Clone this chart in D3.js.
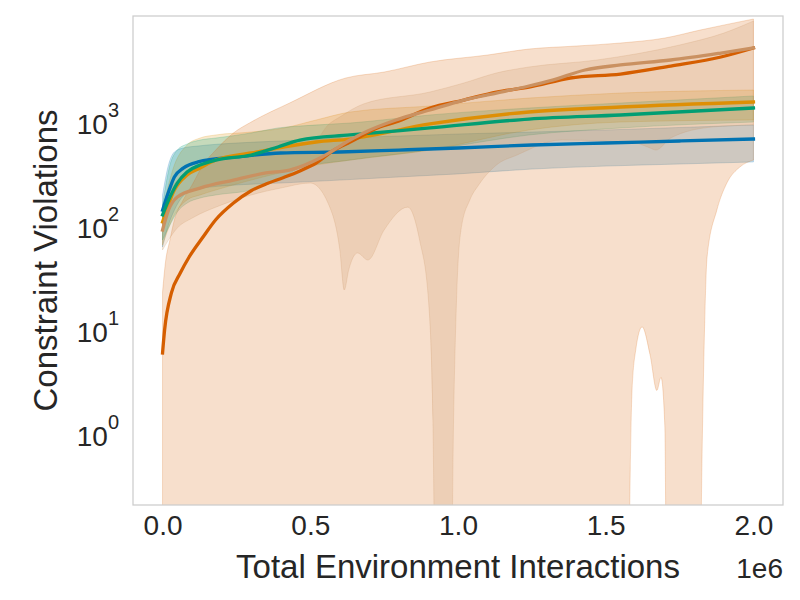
<!DOCTYPE html>
<html lang="en">
<head>
<meta charset="UTF-8">
<title>Constraint Violations</title>
<style>
    body { margin: 0; background: #fff; }
    svg { font-family: "Liberation Sans", Arial, sans-serif; }
</style>
<script src="https://d3js.org/d3.v7.min.js"></script>
</head>
<body>
<div id="chart"></div>
<script>
// x values are environment interactions, y values are constraint violations

// blue run
var blueSteps = [0, 0.02e6, 0.04e6, 0.07e6, 0.12e6, 0.25e6, 0.4e6, 0.6e6, 0.8e6, 1.0e6, 1.25e6, 1.5e6, 1.75e6, 2.0e6];
var blueMean  = [130, 194, 271, 330, 378, 422, 461, 471, 492, 515, 550, 575, 601, 628];
var blueHi    = [182, 353, 471, 515, 538, 575, 601, 642, 671, 702, 733, 767, 811, 857];
var blueLo    = [57.5, 93.5, 130, 178, 208, 227, 237, 253, 271, 290, 323, 345, 361, 378];

// orange run
var orangeSteps = [0, 0.04e6, 0.083e6, 0.127e6, 0.18e6, 0.30e6, 0.41e6, 0.52e6, 0.635e6, 0.905e6, 1.24e6, 1.55e6, 2.0e6];
var orangeMean  = [100, 203, 283, 330, 394, 461, 526, 588, 628, 876, 1142, 1276, 1425];
var orangeHi    = [130, 353, 550, 642, 687, 733, 802, 957, 1142, 1304, 1556, 1738, 1858];
var orangeLo    = [60.1, 117, 163, 182, 203, 253, 303, 353, 394, 492, 767, 915, 957];

// green run
var greenSteps = [0, 0.025e6, 0.05e6, 0.083e6, 0.127e6, 0.18e6, 0.30e6, 0.39e6, 0.465e6, 0.635e6, 0.905e6, 1.24e6, 1.55e6, 2.0e6];
var greenMean  = [117, 174, 237, 303, 353, 394, 441, 526, 614, 687, 802, 977, 1069, 1248];
var greenHi    = [146, 353, 492, 562, 614, 642, 718, 802, 838, 895, 1069, 1248, 1393, 1629];
var greenLo    = [67.1, 93.5, 125, 152, 170, 182, 203, 253, 330, 394, 492, 687, 802, 915];

// vermillion run (lower bound goes to ~0 for most of the run)
var redSteps = [0, 0.007e6, 0.03e6, 0.06e6, 0.09e6, 0.137e6, 0.18e6, 0.24e6, 0.30e6, 0.35e6, 0.41e6, 0.465e6, 0.52e6,
                0.58e6, 0.635e6, 0.735e6, 0.79e6, 0.905e6, 1.02e6, 1.13e6, 1.24e6, 1.38e6, 1.55e6, 1.72e6, 1.89e6, 2.0e6];
var redMean  = [5.5, 9.2, 20.8, 32.3, 46.1, 71.7, 105, 152, 200, 232, 268, 310, 369,
                492, 588, 819, 915, 1248, 1489, 1778, 1986, 2425, 2648, 3162, 3862, 4713];
var redHiSteps = [0, 0.01e6, 0.025e6, 0.04e6, 0.07e6, 0.1e6, 0.137e6, 0.18e6, 0.24e6, 0.30e6, 0.43e6, 0.62e6,
                  0.75e6, 0.905e6, 1.1e6, 1.24e6, 1.4e6, 1.55e6, 1.7e6, 1.82e6, 2.0e6];
var redHi      = [21.2, 41.2, 67.1, 105, 163, 227, 353, 492, 718, 915, 1393, 2425,
                  2767, 3455, 4033, 4605, 4922, 5262, 5879, 7015, 8954];
var redLoSteps = [0, 1.575e6, 1.583e6, 1.589e6, 1.602e6, 1.623e6, 1.65e6, 1.673e6, 1.687e6, 1.70e6, 1.707e6,
                  1.817e6, 1.826e6, 1.835e6, 1.843e6, 1.876e6, 1.91e6, 1.954e6, 2.0e6];
var redLo      = [0.01, 0.01, 0.42, 2.4, 6.0, 9.8, 5.3, 2.4, 3.2, 1.1, 0.01,
                  0.01, 0.56, 10.9, 46.1, 130, 237, 338, 394];

// tan run
var tanSteps = [0, 0.02e6, 0.05e6, 0.127e6, 0.24e6, 0.35e6, 0.43e6, 0.54e6, 0.635e6, 0.68e6, 0.79e6, 0.905e6,
                1.02e6, 1.13e6, 1.24e6, 1.32e6, 1.43e6, 1.55e6, 1.72e6, 1.89e6, 2.0e6];
var tanMean  = [83.8, 130, 174, 212, 253, 296, 316, 422, 614, 718, 957, 1194,
                1489, 1738, 2031, 2318, 2896, 3236, 3612, 4217, 4713];
var tanHiSteps = [0, 0.02e6, 0.05e6, 0.127e6, 0.24e6, 0.35e6, 0.43e6, 0.52e6, 0.56e6, 0.6e6, 0.68e6, 0.905e6,
                  1.02e6, 1.13e6, 1.24e6, 1.47e6, 1.75e6, 1.9e6, 2.0e6];
var tanHi      = [117, 182, 253, 353, 412, 471, 515, 614, 857, 1023, 1365, 1778,
                  2172, 2710, 3093, 3612, 5035, 6565, 8566];
var tanLoSteps = [0, 0.02e6, 0.05e6, 0.1e6, 0.2e6, 0.3e6, 0.4e6, 0.5e6, 0.57e6, 0.6e6, 0.615e6, 0.63e6, 0.65e6,
                  0.66e6, 0.695e6, 0.75e6, 0.83e6, 0.87e6, 0.9e6, 0.915e6, 0.925e6, 0.975e6, 0.985e6, 0.995e6,
                  1.01e6, 1.04e6, 1.07e6, 1.13e6, 1.2e6, 1.35e6, 1.6e6, 1.65e6, 1.67e6, 1.72e6, 1.86e6, 2.0e6];
var tanLo      = [53.8, 67.1, 87.6, 109, 146, 182, 212, 237, 130, 53.8, 22.2, 34.5, 48.2,
                  50.3, 43.1, 83.8, 139, 67.1, 17.8, 1.25, 0.01, 0.01, 1.25, 17.8,
                  83.8, 163, 227, 353, 441, 614, 575, 515, 492, 642, 819, 857];

// ticks
var xTicks = [0, 0.5e6, 1.0e6, 1.5e6, 2.0e6];
var yTicks = [1, 10, 100, 1000];

var width = 800, height = 600;
var plot = {left: 133, right: 783, top: 16, bottom: 505};
var textColor = "#262626";

var series = [
    {color: "#0173b2", x: blueSteps, mean: blueMean, hiX: blueSteps, hi: blueHi, loX: blueSteps, lo: blueLo},
    {color: "#de8f05", x: orangeSteps, mean: orangeMean, hiX: orangeSteps, hi: orangeHi, loX: orangeSteps, lo: orangeLo},
    {color: "#029e73", x: greenSteps, mean: greenMean, hiX: greenSteps, hi: greenHi, loX: greenSteps, lo: greenLo},
    {color: "#d55e00", x: redSteps, mean: redMean, hiX: redHiSteps, hi: redHi, loX: redLoSteps, lo: redLo},
    {color: "#ca9161", x: tanSteps, mean: tanMean, hiX: tanHiSteps, hi: tanHi, loX: tanLoSteps, lo: tanLo}
];

var svg = d3.select("#chart").append("svg")
    .attr("width", width)
    .attr("height", height)
    .style("background", "#fff");

var xScale = d3.scaleLinear()
    .domain([-0.1e6, 2.1e6])
    .range([plot.left, plot.right]);

var yScale = d3.scaleLog()
    .domain([0.19, 9570])
    .range([plot.bottom, plot.top]);

svg.append("clipPath").attr("id", "plotClip")
    .append("rect")
    .attr("x", plot.left).attr("y", plot.top)
    .attr("width", plot.right - plot.left)
    .attr("height", plot.bottom - plot.top);

var line = d3.line()
    .x(function(d) { return xScale(d[0]); })
    .y(function(d) { return yScale(d[1]); })
    .curve(d3.curveMonotoneX);

// shaded band: upper edge left->right, lower edge right->left
function bandPath(s) {
    var upper = d3.zip(s.hiX, s.hi);
    var lower = d3.zip(s.loX, s.lo).reverse();
    return line(upper) + line(lower).replace(/^M/, "L") + "Z";
}

var g = svg.append("g").attr("clip-path", "url(#plotClip)");

g.selectAll(".band")
    .data(series)
    .enter()
    .append("path")
    .attr("class", "band")
    .attr("d", bandPath)
    .style("fill", function(d) { return d.color; })
    .style("fill-opacity", 0.2)
    .style("stroke", function(d) { return d.color; })
    .style("stroke-opacity", 0.2)
    .style("stroke-width", 1);

g.selectAll(".mean")
    .data(series)
    .enter()
    .append("path")
    .attr("class", "mean")
    .attr("d", function(d) { return line(d3.zip(d.x, d.mean)); })
    .style("fill", "none")
    .style("stroke", function(d) { return d.color; })
    .style("stroke-width", 3.3)
    .style("stroke-linejoin", "round")
    .style("stroke-linecap", "square");

// frame
svg.append("rect")
    .attr("x", plot.left).attr("y", plot.top)
    .attr("width", plot.right - plot.left)
    .attr("height", plot.bottom - plot.top)
    .style("fill", "none")
    .style("stroke", "#cccccc")
    .style("stroke-width", 1.25);

// x axis
var xAxis = svg.append("g")
    .attr("transform", "translate(0," + plot.bottom + ")")
    .call(d3.axisBottom(xScale)
        .tickValues(xTicks)
        .tickSize(0)
        .tickPadding(10)
        .tickFormat(function(d) { return (d / 1e6).toFixed(1); }));
xAxis.select(".domain").remove();
xAxis.selectAll("text")
    .style("font-size", "28px")
    .style("font-family", "'Liberation Sans', Arial, sans-serif")
    .style("fill", textColor);

// y axis with 10^n labels
var yAxis = svg.append("g")
    .attr("transform", "translate(" + plot.left + ",0)")
    .call(d3.axisLeft(yScale)
        .tickValues(yTicks)
        .tickSize(0)
        .tickPadding(14));
yAxis.select(".domain").remove();
yAxis.selectAll("text")
    .style("font-size", "28px")
    .style("font-family", "'Liberation Sans', Arial, sans-serif")
    .style("fill", textColor)
    .attr("dy", "0.55em")
    .each(function(d) {
        var t = d3.select(this);
        t.text(null);
        t.append("tspan").text("10");
        t.append("tspan")
            .attr("dy", -17)
            .style("font-size", "20px")
            .text(Math.round(Math.log10(d)));
    });

// axis labels
svg.append("text")
    .attr("x", (plot.left + plot.right) / 2)
    .attr("y", 578)
    .style("text-anchor", "middle")
    .style("font-size", "33px")
    .style("fill", textColor)
    .text("Total Environment Interactions");

svg.append("text")
    .attr("x", plot.right)
    .attr("y", 578)
    .style("text-anchor", "end")
    .style("font-size", "28px")
    .style("fill", textColor)
    .text("1e6");

svg.append("text")
    .attr("transform", "translate(57," + ((plot.top + plot.bottom) / 2) + ") rotate(-90)")
    .style("text-anchor", "middle")
    .style("font-size", "33px")
    .style("fill", textColor)
    .text("Constraint Violations");
</script>
</body>
</html>
